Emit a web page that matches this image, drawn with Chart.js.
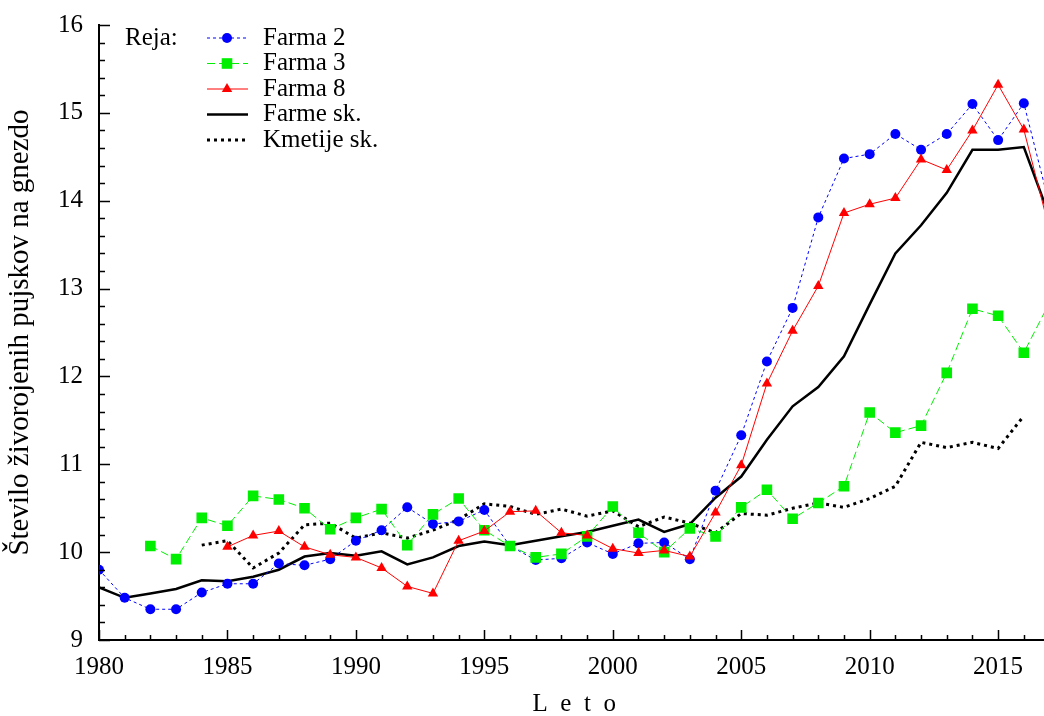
<!DOCTYPE html>
<html>
<head>
<meta charset="utf-8">
<script src="https://cdn.jsdelivr.net/npm/chart.js@4.4.1/dist/chart.umd.min.js"></script>
<style>
    html, body { margin: 0; padding: 0; background: #fff; overflow: hidden; }
    #wrap { position: relative; width: 1057px; height: 716px; }
</style>
</head>
<body>
<div id="wrap"><canvas id="litterChart"></canvas></div>
<script>
// Years on the x axis
const years = [1980, 1981, 1982, 1983, 1984, 1985, 1986, 1987, 1988, 1989,
               1990, 1991, 1992, 1993, 1994, 1995, 1996, 1997, 1998, 1999,
               2000, 2001, 2002, 2003, 2004, 2005, 2006, 2007, 2008, 2009,
               2010, 2011, 2012, 2013, 2014, 2015, 2016, 2017];

// Live-born piglets per litter, one value per year (null = no data)
const farma2 = [9.80, 9.48, 9.35, 9.35, 9.54, 9.64, 9.64, 9.87, 9.85, 9.92,
                10.13, 10.25, 10.51, 10.32, 10.35, 10.48, 10.07, 9.91, 9.93, 10.11,
                9.98, 10.10, 10.11, 9.92, 10.70, 11.33, 12.17, 12.78, 13.81, 14.48,
                14.53, 14.76, 14.58, 14.76, 15.10, 14.69, 15.11, 13.95];
const farma3 = [null, null, 10.07, 9.92, 10.39, 10.30, 10.64, 10.60, 10.50, 10.26,
                10.39, 10.49, 10.08, 10.43, 10.61, 10.25, 10.07, 9.94, 9.98, 10.18,
                10.52, 10.22, 10.00, 10.27, 10.18, 10.51, 10.71, 10.38, 10.56, 10.75,
                11.59, 11.36, 11.44, 12.04, 12.77, 12.69, 12.27, 12.84];
const farma8 = [null, null, null, null, null, 10.06, 10.19, 10.24, 10.06, 9.97,
                9.94, 9.82, 9.61, 9.53, 10.13, 10.24, 10.46, 10.47, 10.22, 10.19,
                10.04, 9.99, 10.02, 9.95, 10.45, 10.99, 11.92, 12.52, 13.03, 13.86,
                13.96, 14.03, 14.47, 14.35, 14.80, 15.32, 14.81, 13.67];
const farmeSk = [9.60, 9.48, 9.53, 9.58, 9.68, 9.67, 9.72, 9.80, 9.95, 9.99,
                 9.96, 10.01, 9.86, 9.94, 10.07, 10.12, 10.08, 10.13, 10.18, 10.23,
                 10.30, 10.37, 10.23, 10.32, 10.62, 10.86, 11.28, 11.66, 11.88, 12.23,
                 12.82, 13.40, 13.72, 14.09, 14.58, 14.58, 14.61, 13.82];
const kmetijeSk = [null, null, null, null, 10.08, 10.13, 9.82, 9.99, 10.31, 10.33,
                   10.16, 10.22, 10.16, 10.25, 10.37, 10.55, 10.52, 10.43, 10.49, 10.41,
                   10.47, 10.29, 10.40, 10.33, 10.22, 10.44, 10.42, 10.50, 10.56, 10.51,
                   10.61, 10.75, 11.25, 11.19, 11.25, 11.18, 11.55, null];

const yTicks = [9, 10, 11, 12, 13, 14, 15, 16];
const seriesLabels = ['Farma 2', 'Farma 3', 'Farma 8', 'Farme sk.', 'Kmetije sk.'];

const FONT = 'Liberation Serif, Times New Roman, serif';

// pair years with a series
function toPoints(values) {
    return years.map((yr, i) => ({ x: yr, y: values[i] }));
}

// Draw inward tick marks (major + minor) like the gnuplot original
const innerTicks = {
    id: 'innerTicks',
    afterDraw(chart) {
        const ctx = chart.ctx;
        const xs = chart.scales.x;
        const ys = chart.scales.y;
        const area = chart.chartArea;
        ctx.save();
        ctx.strokeStyle = '#000';
        ctx.lineWidth = 1.5;
        ctx.beginPath();
        for (let v = 90; v <= 160; v += 2) {
            const py = Math.round(ys.getPixelForValue(v / 10)) + 0.5;
            const len = v % 10 === 0 ? 11 : 6;
            ctx.moveTo(area.left, py);
            ctx.lineTo(area.left + len, py);
        }
        for (let yr = years[0]; yr <= years[years.length - 1]; yr++) {
            const px = Math.round(xs.getPixelForValue(yr)) + 0.5;
            const len = yr % 5 === 0 ? 10 : 5;
            ctx.moveTo(px, area.bottom);
            ctx.lineTo(px, area.bottom - len);
        }
        ctx.stroke();
        ctx.restore();
    }
};

// Legend block in the upper left corner ("Reja:" + samples)
const seriesLegend = {
    id: 'seriesLegend',
    afterDraw(chart) {
        const ctx = chart.ctx;
        const top = 38, rowH = 25.5;
        ctx.save();
        ctx.font = '25px ' + FONT;
        ctx.fillStyle = '#000';
        ctx.textBaseline = 'middle';
        ctx.textAlign = 'left';
        ctx.fillText('Reja:', 125, top);
        chart.data.datasets.forEach((ds, i) => {
            const y = top + i * rowH;
            ctx.save();
            ctx.strokeStyle = ds.borderColor;
            ctx.lineWidth = ds.borderWidth;
            ctx.setLineDash(ds.borderDash || []);
            ctx.beginPath();
            ctx.moveTo(207, y);
            ctx.lineTo(248, y);
            ctx.stroke();
            ctx.setLineDash([]);
            if (ds.pointRadius > 0) {
                ctx.fillStyle = ds.pointBackgroundColor;
                ctx.strokeStyle = ds.pointBorderColor;
                Chart.helpers.drawPoint(ctx, {
                    pointStyle: ds.pointStyle,
                    radius: ds.pointRadius,
                    rotation: 0,
                    borderWidth: 0
                }, 227, y);
            }
            ctx.restore();
            ctx.fillText(seriesLabels[i], 263, y);
        });
        ctx.restore();
    }
};

const ctx = document.getElementById('litterChart').getContext('2d');
new Chart(ctx, {
    type: 'line',
    data: {
        datasets: [
            {
                label: seriesLabels[0],
                data: toPoints(farma2),
                borderColor: '#0000ff',
                borderWidth: 1,
                borderDash: [3, 3],
                pointStyle: 'circle',
                pointRadius: 5,
                pointBackgroundColor: '#0000ff',
                pointBorderColor: '#0000ff',
                pointBorderWidth: 0,
                order: 2
            },
            {
                label: seriesLabels[1],
                data: toPoints(farma3),
                borderColor: '#00ee00',
                borderWidth: 1,
                borderDash: [8, 4],
                pointStyle: 'rect',
                pointRadius: 7.5,
                pointBackgroundColor: '#00ee00',
                pointBorderColor: '#00ee00',
                pointBorderWidth: 0,
                order: 1
            },
            {
                label: seriesLabels[2],
                data: toPoints(farma8),
                borderColor: '#ff0000',
                borderWidth: 1,
                borderDash: [],
                pointStyle: 'triangle',
                pointRadius: 6,
                pointBackgroundColor: '#ff0000',
                pointBorderColor: '#ff0000',
                pointBorderWidth: 0,
                order: 0
            },
            {
                label: seriesLabels[3],
                data: toPoints(farmeSk),
                borderColor: '#000000',
                borderWidth: 2.5,
                borderDash: [],
                pointRadius: 0,
                order: 3
            },
            {
                label: seriesLabels[4],
                data: toPoints(kmetijeSk),
                borderColor: '#000000',
                borderWidth: 3,
                borderDash: [3, 4],
                pointRadius: 0,
                order: 4
            }
        ]
    },
    options: {
        responsive: true,
        maintainAspectRatio: false,
        animation: false,
        spanGaps: false,
        layout: { padding: { top: 25, right: 0, left: 0, bottom: 0 } },
        plugins: {
            legend: { display: false },
            tooltip: { enabled: false }
        },
        elements: { line: { tension: 0 } },
        scales: {
            x: {
                type: 'linear',
                min: years[0],
                max: years[years.length - 1],
                grid: { display: false, drawTicks: false },
                border: { display: true, color: '#000', width: 2 },
                ticks: {
                    stepSize: 5,
                    includeBounds: false,
                    autoSkip: false,
                    maxRotation: 0,
                    padding: 12,
                    color: '#000',
                    font: { family: FONT, size: 25 },
                    callback: v => String(v)
                },
                title: {
                    display: true,
                    text: 'L\u2002e\u2002t\u2002o',
                    color: '#000',
                    font: { family: FONT, size: 25, lineHeight: 0.9 },
                    padding: { top: 0, bottom: 0 }
                },
                afterFit: scale => { scale.height = 76; }
            },
            y: {
                min: yTicks[0],
                max: yTicks[yTicks.length - 1],
                afterBuildTicks: scale => { scale.ticks = yTicks.map(v => ({ value: v })); },
                grid: { display: false, drawTicks: false },
                border: { display: true, color: '#000', width: 2 },
                ticks: {
                    padding: 16,
                    color: '#000',
                    font: { family: FONT, size: 25 }
                },
                title: {
                    display: true,
                    text: 'Število živorojenih pujskov na gnezdo',
                    color: '#000',
                    font: { family: FONT, size: 29 },
                    padding: { top: 3, bottom: 4 }
                },
                afterFit: scale => {
                    scale.width = 99;
                    // let the layout padding alone decide where the plot starts
                    scale.paddingTop = 0;
                    scale.paddingBottom = 0;
                }
            }
        }
    },
    plugins: [innerTicks, seriesLegend]
});
</script>
</body>
</html>
